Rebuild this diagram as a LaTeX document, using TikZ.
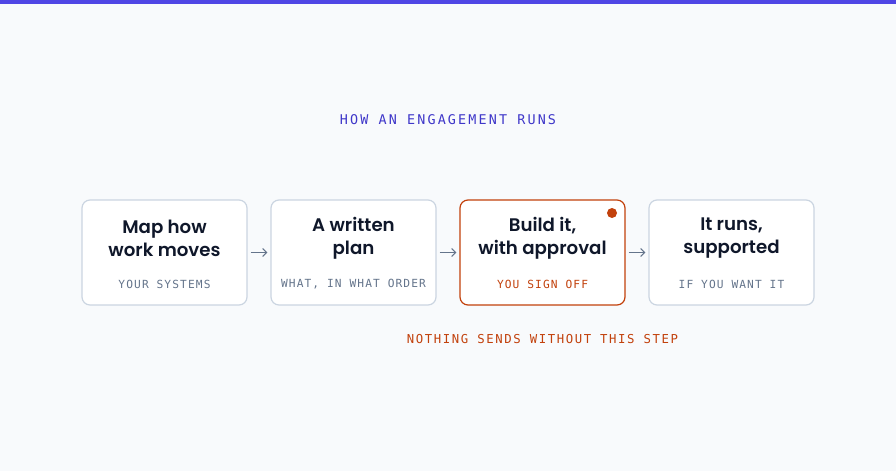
\documentclass[tikz,border=0pt]{standalone}
\usepackage{fontspec}
\setmainfont{Poppins}
\newfontfamily\headfont{Poppins}[UprightFont=* SemiBold]
\newfontfamily\monoA{DejaVu Sans Mono}[LetterSpace=16]
\newfontfamily\monoB{DejaVu Sans Mono}[LetterSpace=10]
\newfontfamily\monoC{DejaVu Sans Mono}[LetterSpace=13]
\usetikzlibrary{arrows.meta}
\definecolor{bg}{HTML}{F8FAFC}
\definecolor{bar}{HTML}{4F46E5}
\definecolor{indigo}{HTML}{3F37C9}
\definecolor{boxline}{HTML}{CBD5E1}
\definecolor{subgray}{HTML}{64748B}
\definecolor{rust}{HTML}{C2410C}
\definecolor{ink}{HTML}{0F172A}
\tikzset{
  stepbox/.style={draw=boxline, line width=1.2pt, fill=white, rounded corners=8pt, minimum width=165pt, minimum height=105pt, inner sep=0pt},
  keybox/.style={stepbox, draw=rust},
  head/.style={font=\headfont\fontsize{18.2}{23}\selectfont, text=ink, align=center},
  sub/.style={font=\monoB\fontsize{11.2}{13}\selectfont, text=subgray},
  flow/.style={draw=subgray, line width=1pt, -{Straight Barb[length=4pt,width=8pt]}},
}
\begin{document}
\begin{tikzpicture}[x=1pt,y=-1pt]
\useasboundingbox (0,0) rectangle (896,471);
\fill[bg] (0,0) rectangle (896,471);
\fill[bar] (0,0) rectangle (896,3.5);
\node[font=\monoA\fontsize{13.4}{15}\selectfont, text=indigo] (title) at (448,120) {HOW AN ENGAGEMENT RUNS};
\node[stepbox] (b1) at (164.5,252.5) {};
\node[stepbox] (b2) at (353.5,252.5) {};
\node[keybox] (b3) at (542.5,252.5) {};
\node[stepbox] (b4) at (731.5,252.5) {};
\node[head] (h1) at (164.5,238.5) {Map how\\work moves};
\node[head] (h2) at (353.5,238.5) {A written\\plan};
\node[head] (h3) at (542.5,238.5) {Build it,\\with approval};
\node[head] (h4) at (731.5,238.5) {It runs,\\supported};
\node[sub] (s1) at (164.5,284) {YOUR SYSTEMS};
\node[sub] (s2) at (353.5,284) {WHAT, IN WHAT ORDER};
\node[sub, text=rust] (s3) at (542.5,284) {YOU SIGN OFF};
\node[sub] (s4) at (731.5,284) {IF YOU WANT IT};
\fill[rust] (612,213) circle (5pt);
\node[font=\monoC\fontsize{12.3}{14}\selectfont, text=rust] (note) at (542.5,339) {NOTHING SENDS WITHOUT THIS STEP};
\draw[flow] ([xshift=3pt]b1.east) -- ([xshift=-3pt]b2.west);
\draw[flow] ([xshift=3pt]b2.east) -- ([xshift=-3pt]b3.west);
\draw[flow] ([xshift=3pt]b3.east) -- ([xshift=-3pt]b4.west);
\end{tikzpicture}
\end{document}
